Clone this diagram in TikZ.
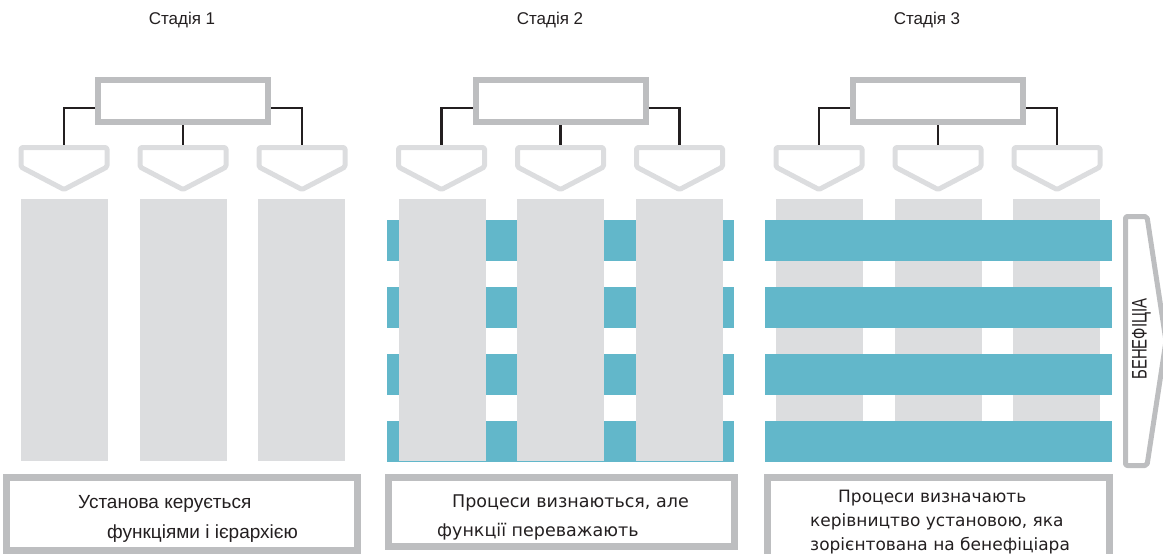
\documentclass[tikz,border=0pt]{standalone}
\usepackage{fontspec}
\setmainfont{Liberation Sans}
\newfontfamily\boxfont{DejaVu Sans}
\usetikzlibrary{positioning}

\definecolor{framegray}{HTML}{BDBEC0}
\definecolor{colgray}{HTML}{DCDDDF}
\definecolor{barteal}{HTML}{62B7CA}
\definecolor{textdark}{HTML}{231F20}

\begin{document}
\begin{tikzpicture}[x=1pt, y=-1pt,
	head/.style={draw=framegray, fill=white, line width=6pt, minimum width=170pt, minimum height=42pt, inner sep=0pt},
	pent/.style={draw=colgray, line width=5pt, line join=round, rounded corners=1.5pt},
	link/.style={draw=textdark, line width=2.5pt},
	note/.style={draw=framegray, line width=7pt, inner sep=0pt},
	notetext/.style={text=textdark, align=left, inner sep=0pt, anchor=north west}]
	\useasboundingbox (0,0) rectangle (1163,554);
	\clip (0,0) rectangle (1163,554);
	% Stage titles
	\foreach \pos/\name/\num in {{(182,20)/title1/1}, {(550,20)/title2/2}, {(927,20)/title3/3}}
		\node[text=textdark, font=\fontsize{17}{20}\selectfont] (\name) at \pos {Стадія \num};
	% Stage 2: bars behind the columns
	\foreach \y in {220,287,354,421}
		\path[fill=barteal] (387,\y) rectangle (734,\y+41);
	% Columns of the three stages
	\foreach \s in {0,377.5,755}
		\foreach \c in {64.5,183,301.5}
			\path[fill=colgray] (\s+\c-43.5,199) rectangle (\s+\c+43.5,461);
	% Stage 3: bars over the columns
	\foreach \y in {220,287,354,421}
		\path[fill=barteal] (765,\y) rectangle (1112,\y+41);
	% Heads, pentagons and links
	\foreach \pos/\name in {{(183,101)/head1}, {(560.5,101)/head2}, {(938,101)/head3}}
		\node[head] (\name) at \pos {};
	\foreach \s/\st in {183/1, 560.5/2, 938/3}
		\foreach \d/\k in {-119/1, 0/2, 119/3} {
			\path[pent] (\s+\d-43,147.5) -- (\s+\d+43,147.5) -- (\s+\d+43,167)
				-- (\s+\d,189.5) -- (\s+\d-43,167) -- cycle;
			\coordinate (top\st\k) at (\s+\d,145);
		}
	\foreach \st in {1,2,3} {
		\path[link] ([yshift=-7pt]head\st.west) -| (top\st1);
		\path[link] ([yshift=-7pt]head\st.east) -| (top\st3);
		\path[link] (head\st.south) -- (top\st2);
	}
	% Bottom notes
	\node[note, minimum width=350.5pt, minimum height=73.5pt] (note1) at (181.75,513.75) {};
	\node[note, minimum width=345.5pt, minimum height=69.5pt] (note2) at (561.25,512) {};
	\node[note, minimum width=342.5pt, minimum height=100pt] (note3) at (938.5,527.5) {};
	\node[notetext, font=\fontsize{19}{30}\selectfont] (text1) at (78,495.4)
		{Установа керується\\\hspace*{29pt}функціями і ієрархією};
	\node[notetext, font=\boxfont\fontsize{17.5}{29}\selectfont] (text2) at (437,494.7)
		{\hspace*{15pt}Процеси визнаються, але\\функції переважають};
	\node[notetext, font=\boxfont\fontsize{17}{23.75}\selectfont] (text3) at (810,490.1)
		{\hspace*{28pt}Процеси визначають\\керівництво установою, яка\\зорієнтована на бенефіціара};
	% Beneficiary arrow
	\path[draw=framegray, line width=5pt, line join=round, rounded corners=2pt]
		(1125.5,216.5) -- (1147,216.5) -- (1166,341) -- (1147,465.5) -- (1125.5,465.5) -- cycle;
	\node[text=textdark, rotate=90, font=\fontsize{21}{24}\selectfont] (benef) at (1141.5,339)
		{\scalebox{0.71}[1]{БЕНЕФІЦІА}};
\end{tikzpicture}
\end{document}
